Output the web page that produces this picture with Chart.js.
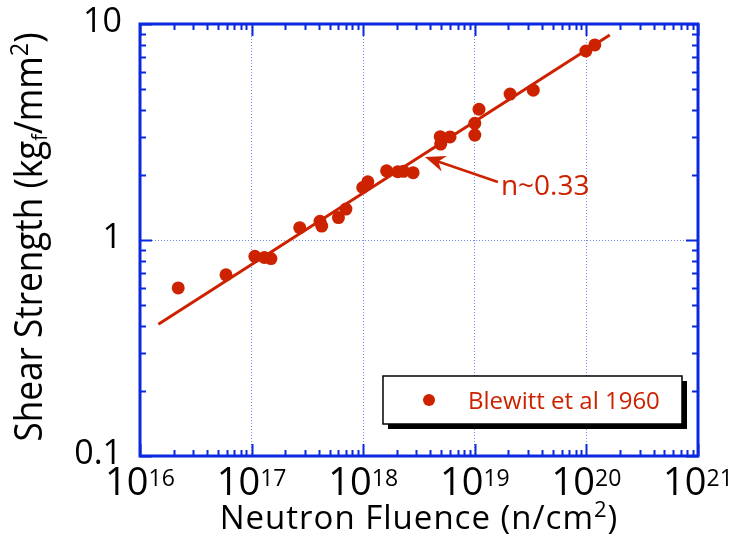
<!DOCTYPE html>
<html>
<head>
<meta charset="utf-8">
<script src="https://cdn.jsdelivr.net/npm/chart.js@4/dist/chart.umd.min.js"></script>
<style>
  html, body { margin: 0; padding: 0; background: #fff; }
  canvas { display: block; }
</style>
</head>
<body>
<canvas id="shearChart" width="732" height="538"></canvas>
<script>
// Blewitt et al 1960 - shear strength vs neutron fluence
var fluence = [2.2e16, 5.9e16, 1.07e17, 1.3e17, 1.49e17, 2.7e17, 4.1e17, 4.25e17,
    6.0e17, 7.0e17, 9.9e17, 1.1e18, 1.62e18, 2.04e18, 2.3e18, 2.8e18,
    4.9e18, 4.95e18, 6.0e18, 1.0e19, 1.0e19, 1.09e19, 2.07e19, 3.34e19, 9.9e19, 1.19e20];
var strength = [0.60, 0.69, 0.84, 0.83, 0.82, 1.14, 1.22, 1.16,
    1.27, 1.39, 1.75, 1.86, 2.09, 2.07, 2.08, 2.05,
    3.01, 2.78, 3.0, 3.47, 3.06, 4.03, 4.74, 4.94, 7.5, 8.0];

// power law fit, end points
var fitX = [1.46e16, 1.62e20];
var fitY = [0.407, 8.9];

// axes
var xExponents = [16, 17, 18, 19, 20, 21];
var yTickValues = [0.1, 1, 10];
var yTickLabels = ['0.1', '1', '10'];

var seriesName = 'Blewitt et al 1960';
var fitLabel = 'n~0.33';
var arrowTip = [3.58e18, 2.42];
var arrowTail = [1.61e19, 1.856];

var red = '#cc2200';
var blue = '#0a28e0';
var font = "'Open Sans', sans-serif";

function decadeTicks(lo, hi) {
    var out = [];
    for (var e = lo; e < hi; e++) {
        for (var k = 1; k < 10; k++) out.push(k * Math.pow(10, e));
    }
    out.push(Math.pow(10, hi));
    return out;
}
var xTicks = decadeTicks(16, 21);
var yTicks = decadeTicks(-1, 1);

function isDecade(v) {
    var l = Math.log10(v);
    return Math.abs(l - Math.round(l)) < 1e-9;
}

// draw a run of text pieces (sizes / baseline shifts) starting at x
function richText(c, parts, x, y) {
    parts.forEach(function (p) {
        c.font = p.size + 'px ' + font;
        c.fillText(p.t, x, y + (p.dy || 0));
        x += c.measureText(p.t).width;
    });
}
function richWidth(c, parts) {
    var w = 0;
    parts.forEach(function (p) {
        c.font = p.size + 'px ' + font;
        w += c.measureText(p.t).width;
    });
    return w;
}

var framePlugin = {
    id: 'frame',
    afterDraw: function (chart) {
        var c = chart.ctx, a = chart.chartArea;
        var xs = chart.scales.x, ys = chart.scales.y;
        c.save();

        // inward ticks on all four sides
        c.strokeStyle = blue;
        c.lineWidth = 2;
        c.beginPath();
        xTicks.forEach(function (v) {
            var px = Math.round(xs.getPixelForValue(v)) + 0.5;
            var len = isDecade(v) ? 12 : 6;
            c.moveTo(px, a.bottom); c.lineTo(px, a.bottom - len);
            c.moveTo(px, a.top); c.lineTo(px, a.top + len);
        });
        yTicks.forEach(function (v) {
            var py = Math.round(ys.getPixelForValue(v)) + 0.5;
            var len = isDecade(v) ? 12 : 6;
            c.moveTo(a.left, py); c.lineTo(a.left + len, py);
            c.moveTo(a.right, py); c.lineTo(a.right - len, py);
        });
        c.stroke();

        c.lineWidth = 3;
        c.strokeRect(a.left, a.top, a.right - a.left, a.bottom - a.top);

        // tick labels
        c.fillStyle = '#000';
        c.textBaseline = 'alphabetic';
        c.textAlign = 'left';
        xExponents.forEach(function (e) {
            var parts = [{ t: '10', size: 38 }, { t: String(e), size: 23, dy: -9 }];
            var px = xs.getPixelForValue(Math.pow(10, e));
            richText(c, parts, px - richWidth(c, parts) / 2, a.bottom + 39);
        });
        c.textAlign = 'right';
        c.textBaseline = 'middle';
        c.font = '34px ' + font;
        yTickValues.forEach(function (v, i) {
            c.fillText(yTickLabels[i], a.left - 18, ys.getPixelForValue(v) - 2);
        });

        // axis titles
        c.textAlign = 'left';
        c.textBaseline = 'alphabetic';
        c.letterSpacing = '1px';
        var xt = [{ t: 'Neutron Fluence (n/cm', size: 33 }, { t: '2', size: 22, dy: -12 }, { t: ')', size: 33 }];
        richText(c, xt, 419 - richWidth(c, xt) / 2, 529);
        c.letterSpacing = '0px';

        var yt = [{ t: 'Shear Strength (kg', size: 39 }, { t: 'f', size: 22, dy: 5 },
                  { t: '/mm', size: 39 }, { t: '2', size: 26, dy: -14 }, { t: ')', size: 39 }];
        c.save();
        c.translate(42, 237);
        c.rotate(-Math.PI / 2);
        c.scale(0.9, 1);
        richText(c, yt, -richWidth(c, yt) / 2, 0);
        c.restore();

        // annotation arrow
        var tx = xs.getPixelForValue(arrowTip[0]), ty = ys.getPixelForValue(arrowTip[1]);
        var sx = xs.getPixelForValue(arrowTail[0]), sy = ys.getPixelForValue(arrowTail[1]);
        var ang = Math.atan2(sy - ty, sx - tx);
        c.strokeStyle = red;
        c.fillStyle = red;
        c.lineWidth = 2.5;
        c.beginPath();
        c.moveTo(sx, sy); c.lineTo(tx + 6 * Math.cos(ang), ty + 6 * Math.sin(ang));
        c.stroke();
        c.beginPath();
        c.moveTo(tx, ty);
        c.lineTo(tx + 22 * Math.cos(ang - 0.38), ty + 22 * Math.sin(ang - 0.38));
        c.lineTo(tx + 14 * Math.cos(ang), ty + 14 * Math.sin(ang));
        c.lineTo(tx + 22 * Math.cos(ang + 0.38), ty + 22 * Math.sin(ang + 0.38));
        c.closePath();
        c.fill();
        c.font = '28px ' + font;
        c.fillText(fitLabel, sx + 3, sy + 13);

        // legend box with drop shadow
        var lx = a.left + 243, ly = 376, lw = 299, lh = 48;
        c.fillStyle = '#000';
        c.fillRect(lx + 5, ly + 5, lw, lh);
        c.fillStyle = '#fff';
        c.fillRect(lx, ly, lw, lh);
        c.strokeStyle = '#000';
        c.lineWidth = 1.5;
        c.strokeRect(lx, ly, lw, lh);
        c.fillStyle = red;
        c.beginPath();
        c.arc(lx + 46, ly + 24, 6, 0, Math.PI * 2);
        c.fill();
        c.font = '24px ' + font;
        c.fillText(seriesName, lx + 85, ly + 33);

        c.restore();
    }
};

var ctx = document.getElementById('shearChart').getContext('2d');
var shearChart = new Chart(ctx, {
    type: 'scatter',
    data: {
        datasets: [{
            label: seriesName,
            data: fluence.map(function (x, i) { return { x: x, y: strength[i] }; }),
            backgroundColor: red,
            borderColor: red,
            pointRadius: 6.5,
            pointBorderWidth: 0
        }, {
            label: 'fit',
            type: 'line',
            data: fitX.map(function (x, i) { return { x: x, y: fitY[i] }; }),
            borderColor: red,
            borderWidth: 3,
            pointRadius: 0,
            fill: false
        }]
    },
    options: {
        responsive: false,
        animation: false,
        layout: { padding: { left: 140, right: 34, top: 24, bottom: 82 } },
        plugins: {
            legend: { display: false },
            tooltip: { enabled: false }
        },
        scales: {
            x: {
                type: 'logarithmic',
                min: 1e16,
                max: 1e21,
                afterBuildTicks: function (s) {
                    s.ticks = xExponents.map(function (e) { return { value: Math.pow(10, e) }; });
                },
                ticks: { display: false },
                grid: {
                    drawTicks: false,
                    lineWidth: 1,
                    color: function (c) {
                        var v = c.tick && c.tick.value;
                        return (v > 1e16 && v < 1e21) ? 'rgba(70,100,235,0.75)' : 'rgba(0,0,0,0)';
                    }
                },
                border: { display: false, dash: [1, 2] }
            },
            y: {
                type: 'logarithmic',
                min: 0.1,
                max: 10,
                afterBuildTicks: function (s) {
                    s.ticks = yTickValues.map(function (v) { return { value: v }; });
                },
                ticks: { display: false },
                grid: {
                    drawTicks: false,
                    lineWidth: 1,
                    color: function (c) {
                        var v = c.tick && c.tick.value;
                        return (v > 0.1 && v < 10) ? 'rgba(70,100,235,0.75)' : 'rgba(0,0,0,0)';
                    }
                },
                border: { display: false, dash: [1, 2] }
            }
        }
    },
    plugins: [framePlugin]
});
</script>
</body>
</html>
